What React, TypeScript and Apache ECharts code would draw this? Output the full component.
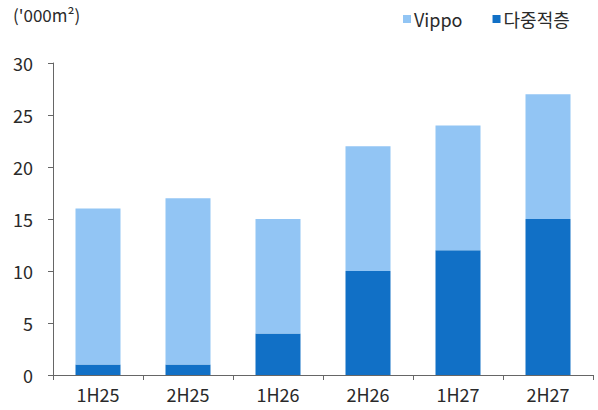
import React, { useEffect, useRef } from "react";
import * as echarts from "echarts";

const categories = ["1H25", "2H25", "1H26", "2H26", "1H27", "2H27"];
const multiLayer = [1, 1, 4, 10, 12, 15];
const vippo = [15, 16, 11, 12, 12, 12];
const yTicks = { min: 0, max: 30, interval: 5 };
const unitLabel = "('000m²)";

const FONT = "'Noto Sans CJK KR', 'Noto Sans', sans-serif";

export default function App() {
  const ref = useRef<HTMLDivElement>(null);
  useEffect(() => {
    document.body.style.margin = "0";
    const chart = echarts.init(ref.current!, null, { renderer: "svg" });
    chart.setOption({
      animation: false,
      textStyle: { fontFamily: FONT },
      grid: { left: 53, right: 5, top: 63, bottom: 35 },
      graphic: [
        {
          type: "text",
          left: 13,
          top: 6,
          style: { text: unitLabel, fontSize: 17, fill: "#2a2a2a", fontFamily: FONT },
        },
      ],
      legend: {
        data: ["Vippo", "다중적층"],
        top: 5,
        left: 398,
        itemWidth: 8,
        itemHeight: 8,
        itemGap: 30,
        icon: "rect",
        textStyle: { fontSize: 18, color: "#2a2a2a", fontFamily: FONT, padding: [0, 0, 0, -2] },
      },
      xAxis: {
        type: "category",
        data: categories,
        axisLine: { lineStyle: { color: "#666", width: 1 } },
        axisTick: { show: true, length: 5, lineStyle: { color: "#666" } },
        axisLabel: { fontSize: 18, color: "#2a2a2a", margin: 10 },
      },
      yAxis: {
        type: "value",
        min: yTicks.min,
        max: yTicks.max,
        interval: yTicks.interval,
        splitLine: { show: false },
        axisLine: { show: true, lineStyle: { color: "#666", width: 1 } },
        axisTick: { show: true, length: 5, lineStyle: { color: "#666" } },
        axisLabel: { fontSize: 18, color: "#2a2a2a", margin: 20 },
      },
      series: [
        {
          name: "다중적층",
          type: "bar",
          stack: "total",
          data: multiLayer,
          barWidth: "50%",
          itemStyle: { color: "#1170C6" },
        },
        {
          name: "Vippo",
          type: "bar",
          stack: "total",
          data: vippo,
          barWidth: "50%",
          itemStyle: { color: "#92C5F4" },
        },
      ],
    });
    return () => chart.dispose();
  }, []);
  return <div ref={ref} style={{ width: 598, height: 410 }} />;
}
